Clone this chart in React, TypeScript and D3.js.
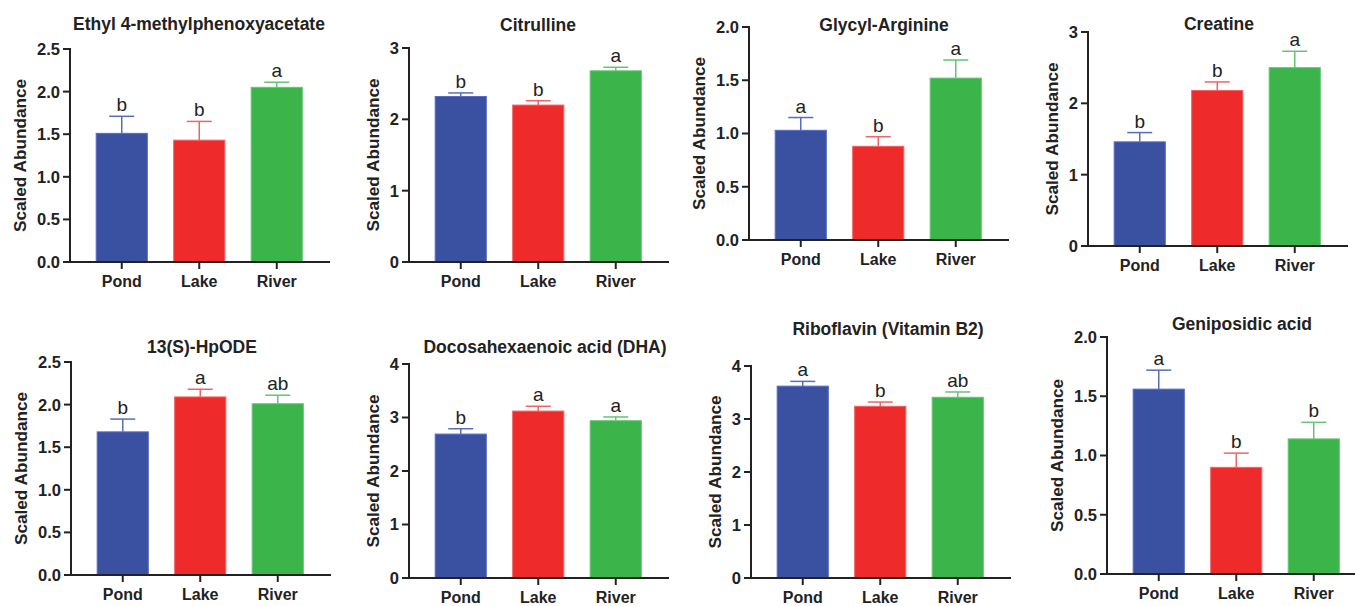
import React from "react";
import * as d3 from "d3";

const groups = ["Pond", "Lake", "River"];
const titles = [
  "Ethyl 4-methylphenoxyacetate",
  "Citrulline",
  "Glycyl-Arginine",
  "Creatine",
  "13(S)-HpODE",
  "Docosahexaenoic acid (DHA)",
  "Riboflavin (Vitamin B2)",
  "Geniposidic acid",
];
const means = [
  [1.51, 1.43, 2.05],
  [2.32, 2.2, 2.68],
  [1.03, 0.88, 1.52],
  [1.46, 2.18, 2.5],
  [1.68, 2.09, 2.01],
  [2.69, 3.12, 2.94],
  [3.62, 3.24, 3.41],
  [1.56, 0.9, 1.14],
];
const sems = [
  [0.2, 0.22, 0.06],
  [0.05, 0.06, 0.05],
  [0.12, 0.09, 0.17],
  [0.13, 0.12, 0.23],
  [0.15, 0.09, 0.1],
  [0.1, 0.09, 0.07],
  [0.09, 0.08, 0.1],
  [0.16, 0.12, 0.14],
];
const letters = [
  ["b", "b", "a"],
  ["b", "b", "a"],
  ["a", "b", "a"],
  ["b", "b", "a"],
  ["b", "a", "ab"],
  ["b", "a", "a"],
  ["a", "b", "ab"],
  ["a", "b", "b"],
];
const yMax = [2.5, 3, 2, 3, 2.5, 4, 4, 2];
const tickStep = [0.5, 1, 0.5, 1, 0.5, 1, 1, 0.5];
const yLabel = "Scaled Abundance";

// layout: axis x, top px (yMax), zero px, title center x, title baseline y
const layout = [
  { ax: 70, top: 49, zero: 262, tx: 199, ty: 30 },
  { ax: 409, top: 48, zero: 262, tx: 538, ty: 31 },
  { ax: 749, top: 27, zero: 240, tx: 884, ty: 31 },
  { ax: 1088, top: 32, zero: 246, tx: 1219, ty: 30 },
  { ax: 71, top: 362, zero: 575, tx: 202, ty: 353 },
  { ax: 409, top: 364, zero: 578, tx: 545, ty: 353 },
  { ax: 751, top: 366, zero: 578, tx: 888, ty: 335 },
  { ax: 1107, top: 337, zero: 574, tx: 1242, ty: 330 },
];

const fills = ["#3A50A1", "#EE2A2A", "#3BB44A"];
const errColors = ["#5A6CC0", "#F06464", "#66C474"];
const FONT = "'Liberation Sans', Arial, Helvetica, sans-serif";
const AXIS = "#222";

function Panel({ i }: { i: number }) {
  const L = layout[i];
  const y = d3.scaleLinear().domain([0, yMax[i]]).range([L.zero, L.top]);
  const x = d3
    .scaleBand<string>()
    .domain(groups)
    .range([L.ax + 13, L.ax + 13 + 232.5])
    .paddingInner(0.34)
    .paddingOuter(0.17);
  const ticks = d3.range(0, yMax[i] + 1e-9, tickStep[i]);
  const decimals = tickStep[i] < 1;
  const fmt = decimals ? d3.format(".1f") : d3.format("d");
  const labelX = decimals ? L.ax - 44 : L.ax - 30;
  const bw = x.bandwidth();
  const cap = 25;
  return (
    <g>
      <text
        x={L.tx}
        y={L.ty}
        textAnchor="middle"
        fontFamily={FONT}
        fontWeight="bold"
        fontSize={17.5}
        fill="#222"
      >
        {titles[i]}
      </text>
      {groups.map((g, j) => {
        const cx = (x(g) as number) + bw / 2;
        const top = y(means[i][j]);
        const errTop = y(means[i][j] + sems[i][j]);
        return (
          <g key={g}>
            <rect
              x={x(g)}
              y={top}
              width={bw}
              height={L.zero - top}
              fill={fills[j]}
              stroke={errColors[j]}
              strokeWidth={1}
            />
            <line x1={cx} x2={cx} y1={top} y2={errTop} stroke={errColors[j]} strokeWidth={1.5} />
            <line
              x1={cx - cap / 2}
              x2={cx + cap / 2}
              y1={errTop}
              y2={errTop}
              stroke={errColors[j]}
              strokeWidth={1.5}
            />
            <text
              x={cx}
              y={errTop - 5}
              textAnchor="middle"
              fontFamily={FONT}
              fontSize={19}
              fill="#222"
            >
              {letters[i][j]}
            </text>
            <line x1={cx} x2={cx} y1={L.zero} y2={L.zero + 7} stroke={AXIS} strokeWidth={2} />
            <text
              x={cx}
              y={L.zero + 25}
              textAnchor="middle"
              fontFamily={FONT}
              fontWeight="bold"
              fontSize={16}
              fill="#222"
            >
              {g}
            </text>
          </g>
        );
      })}
      <line x1={L.ax} x2={L.ax} y1={L.top - 1} y2={L.zero} stroke={AXIS} strokeWidth={2} />
      <line x1={L.ax - 1} x2={L.ax + 260} y1={L.zero} y2={L.zero} stroke={AXIS} strokeWidth={2} />
      {ticks.map((t) => (
        <g key={t}>
          <line x1={L.ax - 7} x2={L.ax} y1={y(t)} y2={y(t)} stroke={AXIS} strokeWidth={2} />
          <text
            x={L.ax - 10}
            y={y(t)}
            dy="0.36em"
            textAnchor="end"
            fontFamily={FONT}
            fontWeight="bold"
            fontSize={16.5}
            fill="#222"
          >
            {fmt(t)}
          </text>
        </g>
      ))}
      <text
        transform={`translate(${labelX},${(L.top + L.zero) / 2}) rotate(-90)`}
        textAnchor="middle"
        fontFamily={FONT}
        fontWeight="bold"
        fontSize={17.2}
        fill="#222"
      >
        {yLabel}
      </text>
    </g>
  );
}

export default function App() {
  return (
    <svg
      width={1355}
      height={606}
      style={{ position: "absolute", left: 0, top: 0, background: "#fff" }}
    >
      <rect width={1355} height={606} fill="#fff" />
      {titles.map((_, i) => (
        <Panel key={i} i={i} />
      ))}
    </svg>
  );
}
